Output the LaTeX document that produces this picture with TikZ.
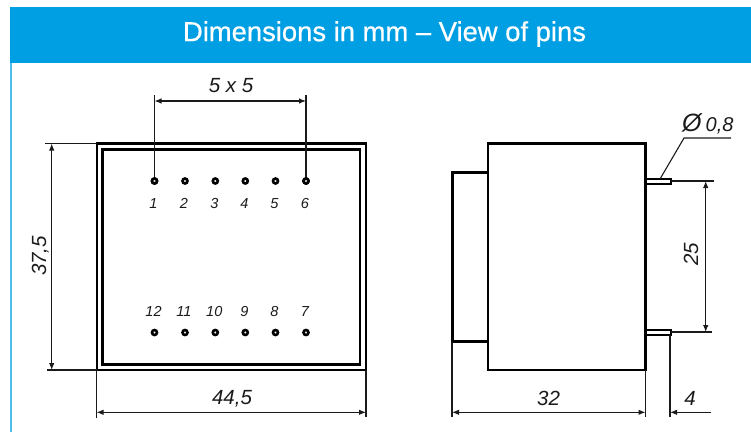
\documentclass[tikz,border=0pt]{standalone}
\usepackage{fontspec}
\setmainfont{Liberation Sans}
\usetikzlibrary{arrows.meta}
\definecolor{headblue}{HTML}{009FE3}
\definecolor{edgeblue}{HTML}{4FBDEE}
\definecolor{inkgrey}{HTML}{1A1A1A}
\tikzset{
  x=1pt,y=-1pt,
  heavy/.style={draw=black,line width=2.7pt,line cap=rect},
  pinline/.style={draw=black,line width=2pt},
  thinline/.style={draw=inkgrey,line width=1.1pt},
  dim/.style={thinline,{Latex[length=7pt,width=5.5pt]}-{Latex[length=7pt,width=5.5pt]}},
  dimend/.style={thinline,-{Latex[length=7pt,width=5.5pt]}},
  pin/.style={circle,draw=black,fill=white,line width=2.6pt,minimum size=5pt,inner sep=0pt},
  pinnum/.style={font=\fontsize{14.5}{14.5}\selectfont\itshape,text=inkgrey,inner sep=0pt,anchor=base},
  dimtext/.style={font=\fontsize{20.5}{20.5}\selectfont\itshape,text=inkgrey,inner sep=0pt,anchor=base},
  title/.style={font=\fontsize{27.4}{27.4}\selectfont\addfontfeature{FakeBold=0.6},text=white,inner sep=0pt}
}
\begin{document}
\begin{tikzpicture}
\useasboundingbox (0,0) rectangle (751,432);
% frame
\fill[headblue] (10,7) rectangle (751,63);
\fill[edgeblue] (10,63) rectangle (12,432);
\node[title] (head) at (384.5,34) {Dimensions in mm – View of pins};
% front view
\draw[heavy] (97,143.5) rectangle (366,370);
\draw[heavy] (102.5,149.5) rectangle (360,364.5);
% pins
\foreach \n/\x in {1/154.5,2/185,3/215.3,4/245.3,5/275.5,6/306}{
  \node[pin] (p\n) at (\x,181) {};
  \node[pinnum] (l\n) at (\x-1,208) {\n};
}
\foreach \n/\x in {12/154.5,11/185,10/215.3,9/245.3,8/275.5,7/306}{
  \node[pin] (p\n) at (\x,332.5) {};
  \node[pinnum] (l\n) at (\x-1,316) {\n};
}
% 5 x 5
\coordinate (a1) at (154.5,95);
\coordinate (a2) at (306,95);
\coordinate (a3) at (154.5,101);
\coordinate (a4) at (306,101);
\draw[thinline] (a1) -- (p1.center);
\draw[thinline] (a2) -- (p6.center);
\node[pin] at (p1) {};
\node[pin] at (p6) {};
\draw[dim] (a3) -- (a4);
\node[dimtext] (t55) at (231,92.5) {5 x 5};
% 37,5
\coordinate (b1) at (45,143.5);
\coordinate (b2) at (97,143.5);
\coordinate (b3) at (47,370);
\coordinate (b4) at (97,370);
\coordinate (b5) at (51.7,143.5);
\coordinate (b6) at (51.7,370);
\draw[thinline] (b1) -- (b2);
\draw[thinline] (b3) -- (b4);
\draw[dim] (b5) -- (b6);
\node[dimtext,rotate=90] (t375) at (46,256) {37,5};
% 44,5
\coordinate (c1) at (96.5,370);
\coordinate (c2) at (96.5,418);
\coordinate (c3) at (366,370);
\coordinate (c4) at (366,417);
\coordinate (c5) at (96.5,412.3);
\coordinate (c6) at (366,412.3);
\draw[thinline] (c1) -- (c2);
\draw[thinline] (c3) -- (c4);
\draw[dim] (c5) -- (c6);
\node[dimtext] (t445) at (232,404.5) {44,5};
% side view
\draw[heavy] (488,143.5) rectangle (645.5,370);
\draw[heavy] (488,172.3) -- (452.3,172.3) -- (452.3,341.7) -- (488,341.7);
\draw[pinline] (646,178.7) -- (670.5,178.7) -- (670.5,183.5) -- (646,183.5);
\draw[pinline] (646,329.7) -- (670.5,329.7) -- (670.5,334.7) -- (646,334.7);
% diameter
\coordinate (d1) at (660,179);
\coordinate (d2) at (684,138);
\coordinate (d3) at (731,138);
\draw[thinline] (d1) -- (d2) -- (d3);
\node[dimtext,anchor=base west] (t08) at (682,131) {\fontsize{25}{25}\selectfont Ø\hspace{4pt}\fontsize{20}{20}\selectfont 0,8};
% 25
\coordinate (e1) at (671,181);
\coordinate (e2) at (714,181);
\coordinate (e3) at (671,332);
\coordinate (e4) at (712,332);
\coordinate (e5) at (705.7,181);
\coordinate (e6) at (705.7,332);
\draw[thinline] (e1) -- (e2);
\draw[thinline] (e3) -- (e4);
\draw[dim] (e5) -- (e6);
\node[dimtext,rotate=90] (t25) at (698,254) {25};
% 32
\coordinate (f1) at (452,342);
\coordinate (f2) at (452,417);
\coordinate (f3) at (645.5,370);
\coordinate (f4) at (645.5,417);
\coordinate (f5) at (452,412.3);
\coordinate (f6) at (645.5,412.3);
\draw[thinline] (f1) -- (f2);
\draw[thinline] (f3) -- (f4);
\draw[dim] (f5) -- (f6);
\node[dimtext] (t32) at (548.5,405) {32};
% 4
\coordinate (g1) at (670,335);
\coordinate (g2) at (670,417);
\coordinate (g3) at (711,412.3);
\coordinate (g4) at (670,412.3);
\draw[thinline] (g1) -- (g2);
\draw[dimend] (g3) -- (g4);
\node[dimtext] (t4) at (690,405) {4};
\end{tikzpicture}
\end{document}
